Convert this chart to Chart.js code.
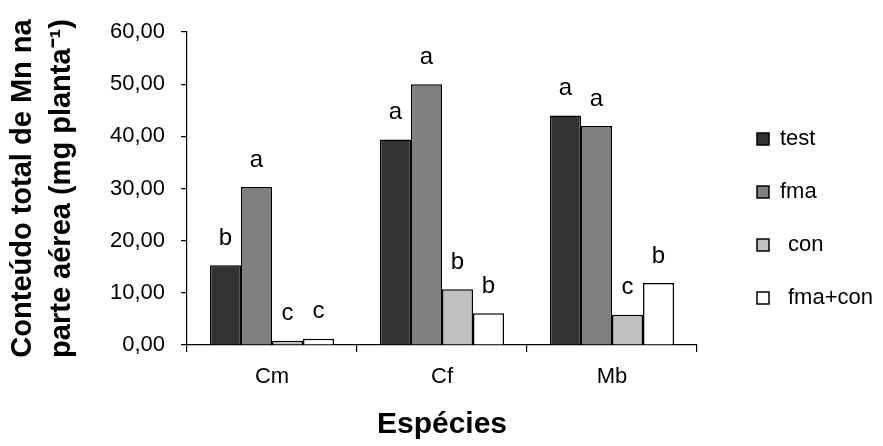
<!DOCTYPE html>
<html>
<head>
<meta charset="utf-8">
<script src="https://cdn.jsdelivr.net/npm/chart.js@4.4.0/dist/chart.umd.min.js"></script>
<style>
  body { margin: 0; background: #fff; }
  canvas { display: block; }
</style>
</head>
<body>
<canvas id="grafico" width="883" height="446"></canvas>
<script>
// Dados
const especies = ['Cm', 'Cf', 'Mb'];
const series = ['test', 'fma', 'con', 'fma+con'];
const test = [15.3, 39.4, 44.0];
const fma = [30.3, 50.0, 42.0];
const con = [0.8, 10.7, 5.8];
const fmaCon = [1.2, 6.1, 11.9];
const letrasTest = ['b', 'a', 'a'];
const letrasFma = ['a', 'a', 'a'];
const letrasCon = ['c', 'b', 'c'];
const letrasFmaCon = ['c', 'b', 'b'];
const yTicks = [0, 10, 20, 30, 40, 50, 60];

const cores = ['#333333', '#808080', '#c0c0c0', '#ffffff'];
const valores = [test, fma, con, fmaCon];
const letras = [letrasTest, letrasFma, letrasCon, letrasFmaCon];
const fonte = "'Liberation Sans', Arial, sans-serif";

// letras de significância acima das barras
const pluginLetras = {
  id: 'letras',
  afterDatasetsDraw(chart) {
    const ctx = chart.ctx;
    ctx.save();
    ctx.font = '24px ' + fonte;
    ctx.fillStyle = '#000';
    ctx.textAlign = 'center';
    ctx.textBaseline = 'middle';
    chart.data.datasets.forEach((ds, i) => {
      chart.getDatasetMeta(i).data.forEach((bar, j) => {
        ctx.fillText(letras[i][j], bar.x, bar.y - 27);
      });
    });
    ctx.restore();
  }
};

// legenda à direita
const pluginLegenda = {
  id: 'legendaDireita',
  afterDraw(chart) {
    const ctx = chart.ctx;
    ctx.save();
    ctx.font = '22px ' + fonte;
    ctx.textBaseline = 'middle';
    chart.data.datasets.forEach((ds, i) => {
      const y = 139 + i * 53;
      ctx.fillStyle = ds.backgroundColor;
      ctx.fillRect(757, y - 6, 12, 12);
      ctx.strokeStyle = '#000';
      ctx.lineWidth = 1.5;
      ctx.strokeRect(757, y - 6, 12, 12);
      ctx.fillStyle = '#000';
      ctx.fillText(ds.label, i < 2 ? 780 : 788, y);
    });
    ctx.restore();
  }
};

new Chart(document.getElementById('grafico'), {
  type: 'bar',
  data: {
    labels: especies,
    datasets: series.map((s, i) => ({
      label: s,
      data: valores[i],
      backgroundColor: cores[i],
      borderColor: '#000',
      borderWidth: 1.5,
      categoryPercentage: 0.73,
      barPercentage: 1
    }))
  },
  options: {
    responsive: false,
    animation: false,
    layout: { padding: { top: 32, right: 186, left: 0, bottom: 0 } },
    plugins: {
      legend: { display: false },
      tooltip: { enabled: false }
    },
    scales: {
      x: {
        grid: { drawOnChartArea: false, tickLength: 7, color: '#000', lineWidth: 1.2 },
        border: { color: '#000', width: 1.2 },
        ticks: { color: '#000', font: { size: 22, family: fonte }, padding: 12 },
        title: {
          display: true, text: 'Espécies', color: '#000',
          font: { size: 30, weight: 'bold', family: fonte }, padding: { top: 0, bottom: 3 }
        },
        afterFit(scale) { scale.height = 101; }
      },
      y: {
        min: 0, max: 60,
        afterBuildTicks(scale) { scale.ticks = yTicks.map(v => ({ value: v })); },
        grid: { drawOnChartArea: false, tickLength: 6, color: '#000', lineWidth: 1.2 },
        border: { color: '#000', width: 1.2 },
        ticks: {
          color: '#000', font: { size: 22, family: fonte }, padding: 16,
          callback: v => v.toFixed(2).replace('.', ',')
        },
        title: {
          display: true, text: ['Conteúdo total de Mn na', 'parte aérea (mg planta⁻¹)'], color: '#000',
          font: { size: 29, weight: 'bold', family: fonte, lineHeight: 1.36 }, padding: { top: 3, bottom: 0 }
        },
        afterFit(scale) { scale.width = 187; }
      }
    }
  },
  plugins: [pluginLetras, pluginLegenda]
});
</script>
</body>
</html>
